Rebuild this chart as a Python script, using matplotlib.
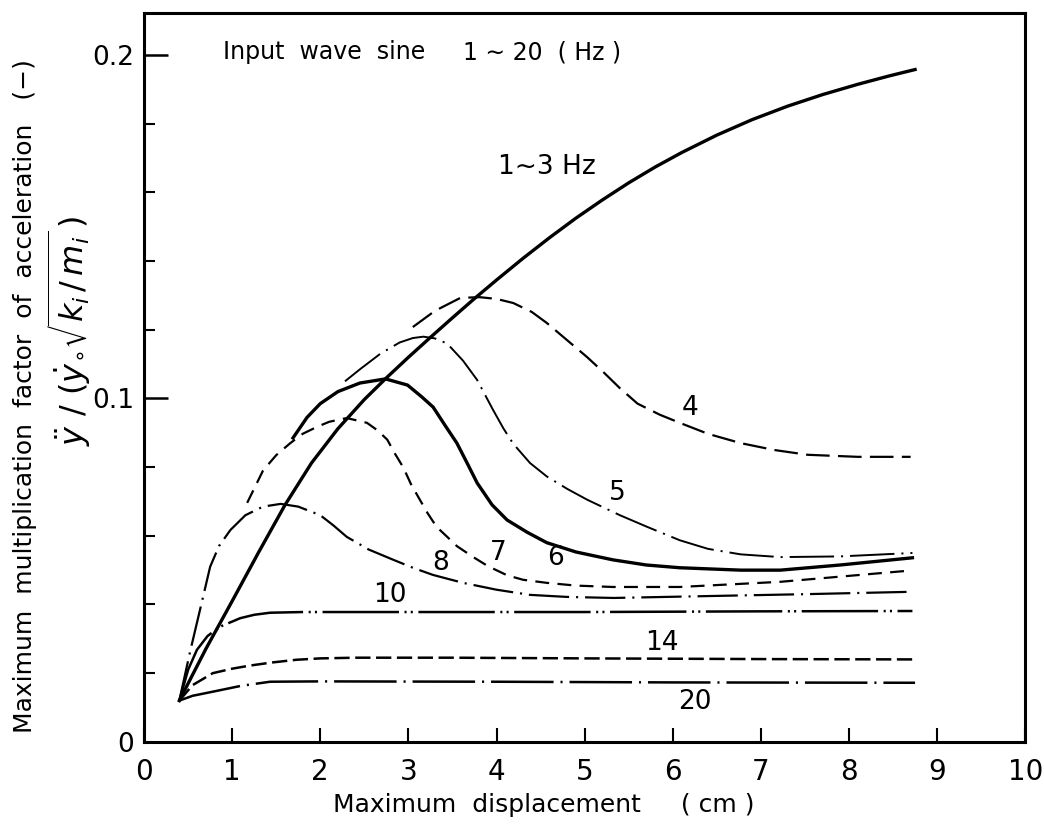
import matplotlib
matplotlib.use("Agg")
import matplotlib.pyplot as plt

plt.rcParams['font.family'] = ['DejaVu Sans']
plt.rcParams['mathtext.fontset'] = 'dejavusans'
plt.rcParams['lines.scale_dashes'] = False

# curves: x = max displacement (cm), y = multiplication factor
x_1_3 = [0.40, 0.70, 1.00, 1.30, 1.60, 1.90, 2.20, 2.50, 2.75, 3.00, 3.25, 3.50, 3.75, 4.00, 4.30, 4.60,
         4.90, 5.20, 5.50, 5.80, 6.10, 6.50, 6.90, 7.30, 7.70, 8.10, 8.45, 8.75]
y_1_3 = [0.012, 0.027, 0.041, 0.0552, 0.069, 0.0812, 0.0912, 0.0997, 0.106, 0.112, 0.1178, 0.1235, 0.1291,
         0.1345, 0.1408, 0.1468, 0.1525, 0.1578, 0.1628, 0.1674, 0.1716, 0.1767, 0.1812, 0.1851, 0.1885,
         0.1915, 0.1939, 0.1958]

x_4 = [3.05, 3.30, 3.59, 3.81, 4.00, 4.19, 4.40, 4.57, 4.80, 5.03, 5.22, 5.40, 5.60, 5.85, 6.08, 6.40, 6.77,
       7.15, 7.53, 8.10, 8.70]
y_4 = [0.1208, 0.1255, 0.1293, 0.1295, 0.129, 0.1278, 0.1252, 0.122, 0.117, 0.112, 0.1075, 0.103, 0.0985,
       0.0953, 0.0929, 0.0897, 0.087, 0.085, 0.0836, 0.083, 0.083]

x_5 = [2.28, 2.45, 2.68, 2.90, 3.05, 3.17, 3.30, 3.44, 3.62, 3.78, 3.96, 4.08, 4.19, 4.38, 4.57, 4.80, 5.03,
       5.40, 5.71, 6.08, 6.40, 6.77, 7.22, 7.90, 8.72]
y_5 = [0.105, 0.1085, 0.113, 0.1163, 0.1176, 0.118, 0.1175, 0.116, 0.111, 0.1054, 0.0967, 0.0912, 0.0868,
       0.0812, 0.0773, 0.0737, 0.0705, 0.066, 0.0626, 0.0587, 0.0562, 0.0546, 0.0538, 0.054, 0.055]

x_6 = [1.69, 1.85, 2.00, 2.20, 2.45, 2.74, 2.99, 3.15, 3.28, 3.42, 3.55, 3.67, 3.78, 3.95, 4.12, 4.35, 4.57,
       4.90, 5.32, 5.70, 6.08, 6.77, 7.22, 7.90, 8.72]
y_6 = [0.0885, 0.0945, 0.0985, 0.102, 0.1045, 0.1057, 0.1039, 0.1005, 0.0975, 0.092, 0.087, 0.081, 0.0754,
       0.069, 0.0646, 0.061, 0.058, 0.0553, 0.053, 0.0515, 0.0507, 0.050, 0.050, 0.0515, 0.0536]

x_7 = [1.17, 1.35, 1.50, 1.66, 1.80, 1.96, 2.10, 2.30, 2.53, 2.65, 2.76, 2.85, 2.94, 3.03, 3.13, 3.22, 3.32,
       3.44, 3.55, 3.73, 3.90, 4.12, 4.30, 4.57, 4.90, 5.32, 6.08, 7.22, 8.66]
y_7 = [0.0696, 0.079, 0.0835, 0.087, 0.0897, 0.0917, 0.0932, 0.0943, 0.0929, 0.0907, 0.088, 0.0838, 0.080,
       0.075, 0.0705, 0.0665, 0.0626, 0.0597, 0.057, 0.0539, 0.0512, 0.0485, 0.0472, 0.0463, 0.0455, 0.0451,
       0.0451, 0.0466, 0.0498]

x_8 = [0.40, 0.52, 0.64, 0.75, 0.85, 0.98, 1.15, 1.35, 1.55, 1.75, 2.00, 2.15, 2.30, 2.55, 2.83, 3.05, 3.28,
       3.62, 4.00, 4.38, 4.80, 5.33, 6.50, 7.50, 8.72]
y_8 = [0.012, 0.026, 0.039, 0.051, 0.057, 0.0617, 0.066, 0.0685, 0.0693, 0.0685, 0.066, 0.063, 0.0597,
       0.056, 0.053, 0.0507, 0.0486, 0.0463, 0.0443, 0.0428, 0.0422, 0.0419, 0.0425, 0.043, 0.0437]

x_10 = [0.40, 0.50, 0.60, 0.72, 0.86, 1.09, 1.25, 1.43, 1.80, 3.00, 5.00, 7.00, 8.72]
y_10 = [0.012, 0.021, 0.0268, 0.0308, 0.0335, 0.036, 0.0370, 0.0376, 0.0378, 0.0378, 0.0378, 0.038, 0.0381]

x_14 = [0.40, 0.55, 0.78, 1.00, 1.20, 1.45, 1.73, 2.00, 2.40, 3.50, 5.00, 7.00, 8.72]
y_14 = [0.012, 0.0165, 0.020, 0.0213, 0.0222, 0.0231, 0.0239, 0.0243, 0.0245, 0.0245, 0.0243, 0.0241, 0.0240]

x_20 = [0.40, 0.55, 0.78, 1.10, 1.43, 2.00, 4.00, 6.00, 8.75]
y_20 = [0.012, 0.0134, 0.0146, 0.0163, 0.0175, 0.0176, 0.0175, 0.0173, 0.0172]

x_ticks = [0, 1, 2, 3, 4, 5, 6, 7, 8, 9, 10]
y_ticks = [0, 0.1, 0.2]
y_ticklabels = ['0', '0.1', '0.2']

fig = plt.figure(figsize=(10.44, 8.27), dpi=100)
ax = fig.add_axes([0.138, 0.103, 0.844, 0.881])

k = 'black'
ax.plot(x_1_3, y_1_3, color=k, lw=2.4, solid_joinstyle='round')
ax.plot(x_4, y_4, color=k, lw=1.6, dashes=(17, 6))
ax.plot(x_5, y_5, color=k, lw=1.4, dashes=(32, 5, 1.5, 5))
ax.plot(x_6, y_6, color=k, lw=2.4, solid_joinstyle='round')
ax.plot(x_7, y_7, color=k, lw=1.6, dashes=(10, 6))
ax.plot(x_8, y_8, color=k, lw=1.6, dashes=(29, 5, 1.5, 5))
ax.plot(x_10, y_10, color=k, lw=1.8, dashes=(55, 4, 1.5, 3, 1.5, 4))
ax.plot(x_14, y_14, color=k, lw=1.8, dashes=(11, 4))
ax.plot(x_20, y_20, color=k, lw=1.8, dashes=(45, 5, 1.5, 5))

fs = 19
ax.text(4.57, 0.1674, '1∼3 Hz', fontsize=fs, ha='center', va='center')
ax.text(6.20, 0.0972, '4', fontsize=fs, ha='center', va='center')
ax.text(5.37, 0.0725, '5', fontsize=fs, ha='center', va='center')
ax.text(4.67, 0.0536, '6', fontsize=fs, ha='center', va='center')
ax.text(4.02, 0.0550, '7', fontsize=fs, ha='center', va='center')
ax.text(3.36, 0.0521, '8', fontsize=fs, ha='center', va='center')
ax.text(2.79, 0.0428, '10', fontsize=fs, ha='center', va='center')
ax.text(5.88, 0.0288, '14', fontsize=fs, ha='center', va='center')
ax.text(6.25, 0.0116, '20', fontsize=fs, ha='center', va='center')
ax.text(0.895, 0.2009, 'Input  wave  sine', fontsize=17, ha='left', va='center')
ax.text(3.62, 0.2009, '1 ∼ 20  ( Hz )', fontsize=17, ha='left', va='center')

ax.set_xlim(0, 10)
ax.set_ylim(0, 0.2122)
ax.set_xticks(x_ticks)
ax.set_yticks(y_ticks)
ax.set_yticklabels(y_ticklabels)
ax.set_yticks([0.02, 0.04, 0.06, 0.08, 0.12, 0.14, 0.16, 0.18], minor=True)
ax.tick_params(axis='x', direction='in', length=10, width=1.5, labelsize=20, pad=12)
ax.tick_params(axis='y', which='major', direction='in', length=17, width=1.8, labelsize=19, pad=7)
ax.tick_params(axis='y', which='minor', direction='in', length=8, width=1.5)
for s in ax.spines.values():
    s.set_linewidth(2.2)

fig.text(0.521, 0.027, 'Maximum  displacement     ( cm )', fontsize=18, ha='center', va='center')
fig.text(0.024, 0.521, 'Maximum  multiplication  factor  of  acceleration   (−)', fontsize=18,
         rotation=90, ha='center', va='center')
fig.text(0.066, 0.600, r'$\ddot{y}\ /\ (\dot{y}_{\circ}\sqrt{k_i\,/\,m_i}\,)$', fontsize=23,
         rotation=90, ha='center', va='center')

plt.savefig('out.png', dpi=100)
plt.close()
